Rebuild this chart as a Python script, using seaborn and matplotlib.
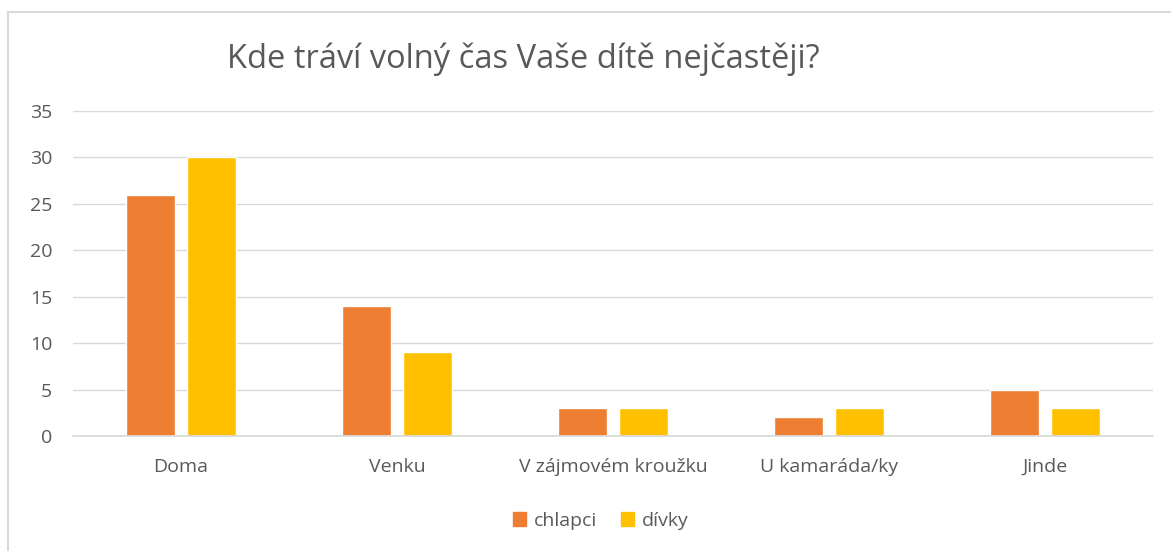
import matplotlib
matplotlib.use("Agg")
import matplotlib.pyplot as plt
import matplotlib.patches as mpatches
import pandas as pd
import seaborn as sns

categories = ["Doma", "Venku", "V zájmovém kroužku", "U kamaráda/ky", "Jinde"]
chlapci = [26, 14, 3, 2, 5]
divky = [30, 9, 3, 3, 3]
series_names = ["chlapci", "dívky"]
colors = ["#ED7D31", "#FFC000"]

df = pd.DataFrame({
    "kategorie": categories * 2,
    "pocet": chlapci + divky,
    "pohlavi": [series_names[0]] * len(categories) + [series_names[1]] * len(categories),
})

sns.set_theme(style="white")
plt.rcParams["font.family"] = ["Open Sans", "DejaVu Sans"]

fig = plt.figure(figsize=(11.71, 5.51), dpi=100)
ax = fig.add_axes([0.0623, 0.2087, 0.9223, 0.5898])

sns.barplot(
    data=df, x="kategorie", y="pocet", hue="pohlavi",
    palette=colors, width=0.565, gap=0.2, ax=ax, saturation=1,
)

ax.set_ylim(0, 35)
ax.set_yticks(range(0, 36, 5))
ax.set_xlim(-0.5, len(categories) - 0.5)
ax.yaxis.grid(True, color="#D9D9D9", linewidth=1)
ax.set_axisbelow(True)
for side in ["top", "right", "left"]:
    ax.spines[side].set_visible(False)
ax.spines["bottom"].set_color("#D9D9D9")
ax.tick_params(axis="both", length=0, labelsize=14, colors="#595959")
ax.tick_params(axis="x", pad=16)
ax.tick_params(axis="y", pad=15)
ax.set_xlabel("")
ax.set_ylabel("")

ax.legend_.remove()
handles = [mpatches.Patch(color=c, label=n) for c, n in zip(colors, series_names)]
fig.legend(
    handles=handles, loc="center", bbox_to_anchor=(0.513, 0.055), ncol=2,
    frameon=False, fontsize=14, labelcolor="#595959",
    handlelength=0.7, handleheight=0.7, handletextpad=0.4, columnspacing=1.2,
)

fig.text(0.447, 0.893, "Kde tráví volný čas Vaše dítě nejčastěji?",
         ha="center", va="center", fontsize=23.5, color="#595959")

fig.patches.append(mpatches.Rectangle(
    (8 / 1171, -0.05), 1.1, 1 - 12 / 551 + 0.05, transform=fig.transFigure,
    fill=False, edgecolor="#D9D9D9", linewidth=1.5,
))

fig.savefig("out.png", dpi=100, facecolor="white")
